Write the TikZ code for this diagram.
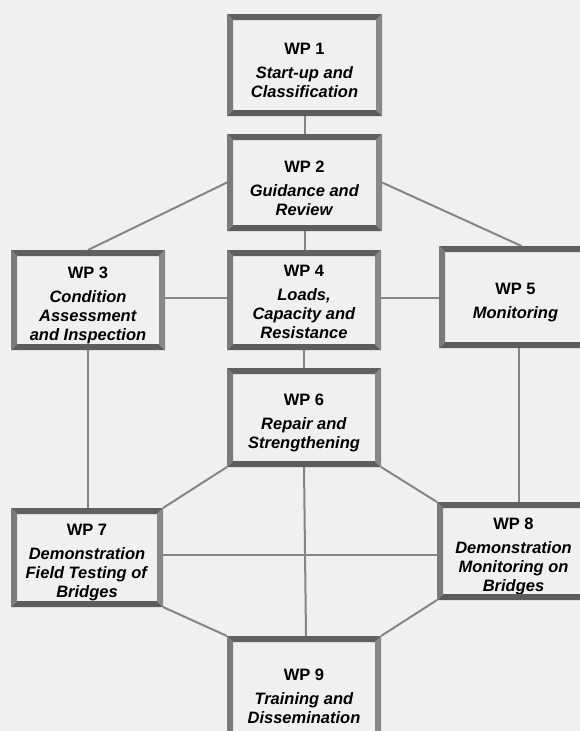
\documentclass[tikz,border=0pt]{standalone}
\usepackage{fontspec}
\setmainfont{Liberation Sans}
\definecolor{bg}{HTML}{F0F0F0}
\definecolor{ftop}{HTML}{606060}
\definecolor{fbot}{HTML}{5C5C5C}
\definecolor{fleft}{HTML}{7A7A7A}
\definecolor{fright}{HTML}{888888}
\definecolor{conn}{HTML}{858585}
\tikzset{
  box/.style={rectangle, draw=none, fill=bg, outer sep=0pt, inner sep=0pt},
  txt/.style={align=center, font=\fontsize{16.5}{19}\selectfont\bfseries, inner sep=0pt},
  link/.style={draw=conn, line width=2pt},
}
\newcommand\wpbox[7][-5.5pt]{%
  \node[box, minimum width={#5-#3}, minimum height={#6-#4}] (#2) at ({(#3+#5)/2},{(#4+#6)/2}) {};
  \node[txt] (#2t) at ([yshift=#1]#2.center) {#7};
}
\newcommand\wpframe[1]{%
  \fill[ftop] (#1.north west) -- (#1.north east) -- ([xshift=-6pt,yshift=-6pt]#1.north east) -- ([xshift=6pt,yshift=-6pt]#1.north west) -- cycle;
  \fill[fbot] (#1.south west) -- (#1.south east) -- ([xshift=-6pt,yshift=6pt]#1.south east) -- ([xshift=6pt,yshift=6pt]#1.south west) -- cycle;
  \fill[fleft] (#1.north west) -- (#1.south west) -- ([xshift=6pt,yshift=6pt]#1.south west) -- ([xshift=6pt,yshift=-6pt]#1.north west) -- cycle;
  \fill[fright] (#1.north east) -- (#1.south east) -- ([xshift=-6pt,yshift=6pt]#1.south east) -- ([xshift=-6pt,yshift=-6pt]#1.north east) -- cycle;
}
\begin{document}
\begin{tikzpicture}[x=1pt,y=-1pt]
\useasboundingbox (0,0) rectangle (580,731);
\clip (0,0) rectangle (580,731);
\fill[bg] (0,0) rectangle (580,731);
% boxes (text nodes)
\wpbox{b1}{227}{14}{382}{116}{WP 1\\[5pt]\textit{Start-up and}\\\textit{Classification}}
\wpbox{b2}{227}{134}{382}{231}{WP 2\\[5pt]\textit{Guidance and}\\\textit{Review}}
\wpbox{b3}{11}{250}{165}{350}{WP 3\\[5pt]\textit{Condition}\\\textit{Assessment}\\\textit{and Inspection}}
\wpbox[-2pt]{b4}{227}{250}{381}{350}{WP 4\\[5pt]\textit{Loads,}\\\textit{Capacity and}\\\textit{Resistance}}
\wpbox{b5}{439}{246}{592}{348}{WP 5\\[5pt]\textit{Monitoring}}
\wpbox{b6}{227}{368}{381}{467}{WP 6\\[5pt]\textit{Repair and}\\\textit{Strengthening}}
\wpbox{b7}{11}{508}{163}{607}{WP 7\\[5pt]\textit{Demonstration}\\\textit{Field Testing of}\\\textit{Bridges}}
\wpbox{b8}{437}{502}{590}{600}{WP 8\\[5pt]\textit{Demonstration}\\\textit{Monitoring on}\\\textit{Bridges}}
\wpbox{b9}{227}{636}{381}{745}{WP 9\\[5pt]\textit{Training and}\\\textit{Dissemination}}
% connectors
\draw[link] (b1.south) -- (b2.north);
\draw[link] (b2.west) -- (b3.north);
\draw[link] (b2.east) -- ([xshift=6pt]b5.north);
\draw[link] (b2.south) -- (b2.south |- b4.north);
\draw[link] ([yshift=2pt]b3.east) -- ([yshift=2pt]b4.west);
\draw[link] ([yshift=2pt]b4.east) -- ([yshift=2pt]b4.east -| b5.west);
\draw[link] (b4.south) -- (b6.north);
\draw[link] (b3.south) -- (b3.south |- b7.north);
\draw[link] ([xshift=3pt]b5.south) -- ([xshift=3pt]b5.south |- b8.north);
\draw[link] (b6.south west) -- (b7.north east);
\draw[link] (b6.south east) -- (b8.north west);
\draw[link] (b6.south) -- ([xshift=2pt]b9.north);
\draw[link] ([yshift=2.5pt]b7.east) -- ([yshift=-4pt]b8.west);
\draw[link] (b7.south east) -- (b9.north west);
\draw[link] (b8.south west) -- (b9.north east);
% frames
\wpframe{b1}\wpframe{b2}\wpframe{b3}\wpframe{b4}\wpframe{b5}
\wpframe{b6}\wpframe{b7}\wpframe{b8}\wpframe{b9}
\end{tikzpicture}
\end{document}
